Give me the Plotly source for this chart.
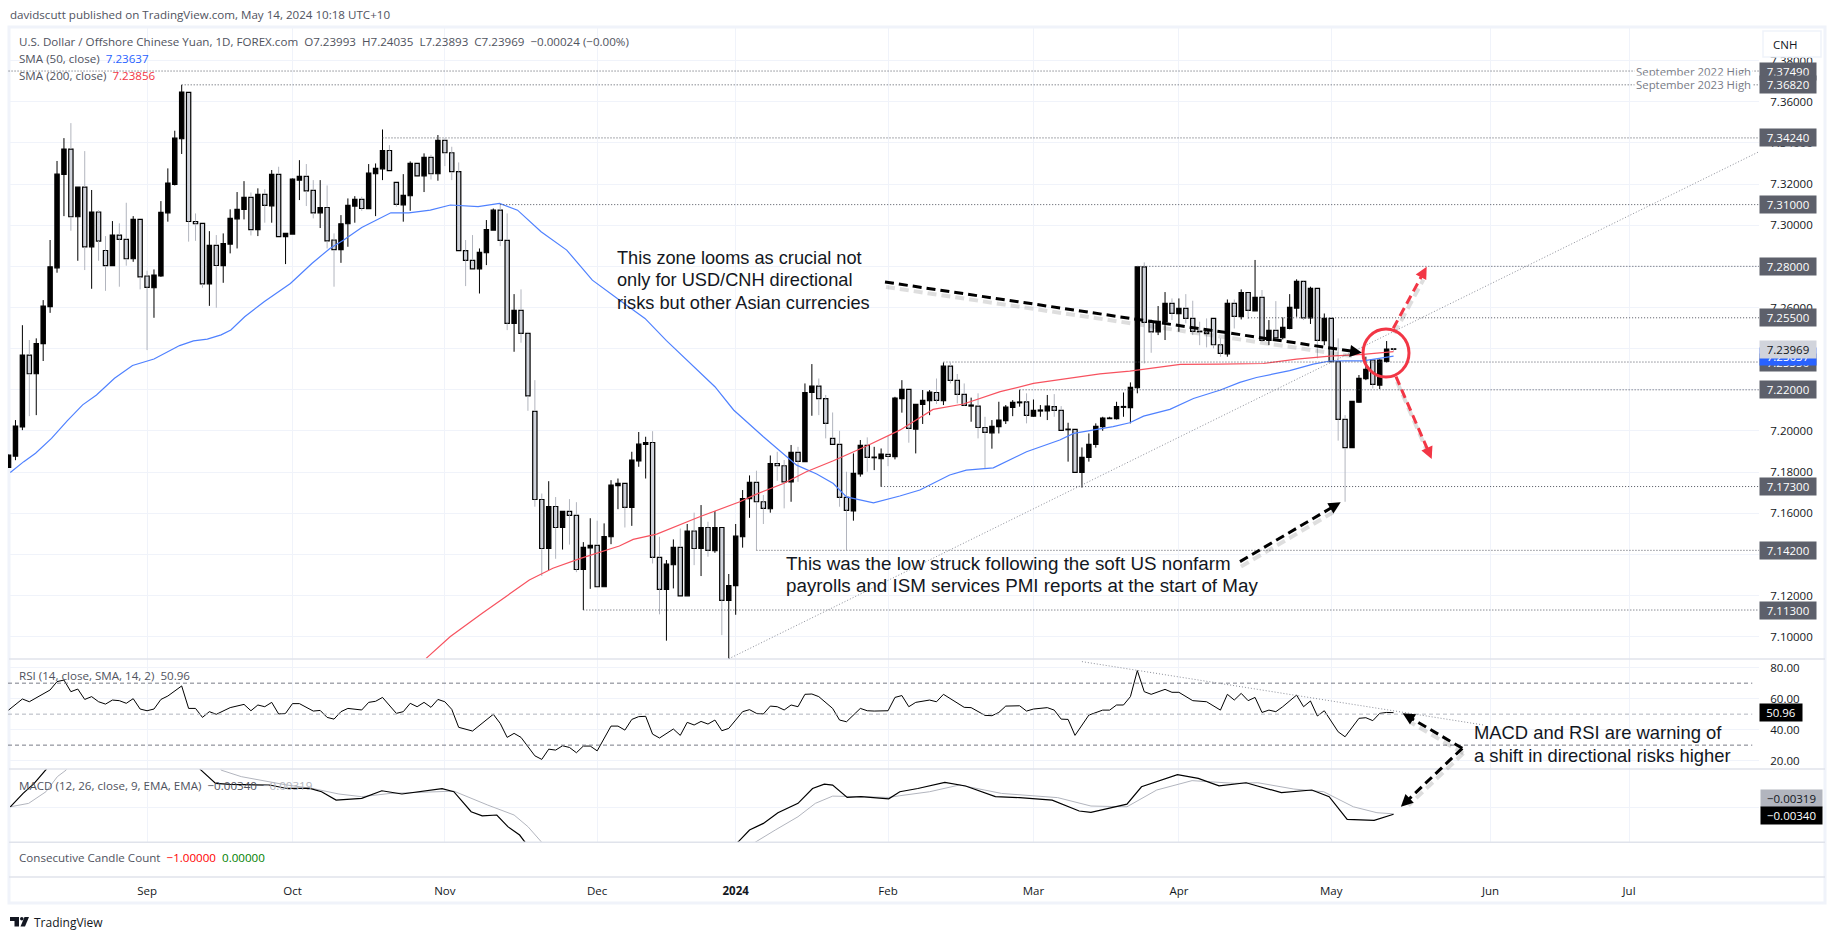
import plotly.graph_objects as go

opens = [7.1823,7.1878,7.2020,7.2369,7.2278,7.2424,7.2604,7.2793,7.3247,7.3370,
7.3041,7.3185,7.2895,7.3064,7.2877,7.2803,7.2952,7.2931,7.2837,7.3028,
7.2753,7.2696,7.2753,7.3060,7.3198,7.3420,7.3645,7.3018,7.3009,7.2715,
7.2902,7.2803,7.2908,7.3031,7.3077,7.3135,7.2978,7.3150,7.3094,7.3247,
7.2944,7.2957,7.3219,7.3237,7.3169,7.3060,7.3086,7.2928,7.2881,7.3007,
7.3093,7.3125,7.3080,7.3250,7.3274,7.3363,7.3208,7.3099,7.3143,7.3300,
7.3240,7.3329,7.3250,7.3412,7.3352,7.3260,7.2876,7.2829,7.2788,7.2866,
7.2976,7.3073,7.2926,7.2523,7.2586,7.2474,7.2095,7.1667,7.1429,7.1633,
7.1531,7.1609,7.1590,7.1327,7.1432,7.1444,7.1243,7.1486,7.1734,7.1745,
7.1629,7.1855,7.1935,7.1944,7.1386,7.1230,7.1350,7.1434,7.1199,7.1514,
7.1429,7.1531,7.1418,7.1531,7.1177,7.1249,7.1486,7.1671,7.1750,7.1656,
7.1622,7.1842,7.1831,7.1753,7.1896,7.1851,7.2187,7.2218,7.2157,7.1964,
7.1935,7.1677,7.1612,7.1791,7.1930,7.1870,7.1865,7.1886,7.1875,7.2157,
7.2202,7.2009,7.2129,7.2147,7.2187,7.2147,7.2315,7.2246,7.2178,7.2121,
7.2121,7.2017,7.1991,7.2021,7.2050,7.2115,7.2137,7.2141,7.2072,7.2097,
7.2098,7.2118,7.2100,7.2006,7.2008,7.1799,7.1872,7.1935,7.2021,7.2060,
7.2060,7.2115,7.2113,7.2210,7.2797,7.2528,7.2482,7.2531,7.2620,7.2570,
7.2596,7.2547,7.2485,7.2482,7.2547,7.2419,7.2375,7.2620,7.2555,7.2673,
7.2584,7.2649,7.2440,7.2489,7.2453,7.2498,7.2597,7.2727,7.2550,7.2693,
7.2439,7.2547,7.2337,7.2056,7.1919,7.2140,7.2254,7.2345,7.2223,7.2338,
7.23993]

closes = [7.1883,7.2024,7.2369,7.2278,7.2425,7.2607,7.2798,7.3248,7.3370,7.3041,
7.3185,7.2895,7.3064,7.2923,7.2803,7.2952,7.2931,7.2837,7.3028,7.2749,
7.2698,7.2758,7.3062,7.3205,7.3423,7.3647,7.3018,7.3007,7.2715,7.2902,
7.2804,7.2911,7.3033,7.3077,7.3135,7.2978,7.3150,7.3096,7.3247,7.2944,
7.2960,7.3224,7.3237,7.3167,7.3060,7.3086,7.2924,7.2881,7.3007,7.3096,
7.3125,7.3081,7.3253,7.3276,7.3363,7.3265,7.3101,7.3145,7.3300,7.3240,
7.3329,7.3250,7.3412,7.3352,7.3260,7.2876,7.2829,7.2788,7.2868,7.2979,
7.3073,7.2926,7.2523,7.2586,7.2474,7.2171,7.1667,7.1429,7.1633,7.1531,
7.1609,7.1590,7.1327,7.1434,7.1444,7.1243,7.1487,7.1737,7.1745,7.1629,
7.1859,7.1936,7.1944,7.1386,7.1230,7.1353,7.1434,7.1199,7.1514,7.1429,
7.1531,7.1420,7.1531,7.1177,7.1249,7.1489,7.1672,7.1750,7.1656,7.1624,
7.1842,7.1831,7.1753,7.1896,7.1852,7.2187,7.2218,7.2157,7.2037,7.1935,
7.1677,7.1614,7.1794,7.1930,7.1872,7.1873,7.1888,7.1876,7.2160,7.2202,
7.2013,7.2129,7.2149,7.2189,7.2149,7.2315,7.2246,7.2178,7.2124,7.2126,
7.2017,7.1993,7.2022,7.2053,7.2116,7.2139,7.2141,7.2076,7.2100,7.2102,
7.2121,7.2100,7.2003,7.2009,7.1799,7.1872,7.1935,7.2022,7.2063,7.2063,
7.2119,7.2119,7.2212,7.2798,7.2528,7.2482,7.2533,7.2620,7.2571,7.2596,
7.2547,7.2484,7.2482,7.2473,7.2419,7.2377,7.2620,7.2557,7.2673,7.2586,
7.2649,7.2440,7.2489,7.2452,7.2503,7.2601,7.2727,7.2550,7.2693,7.2440,
7.2547,7.2337,7.2056,7.1919,7.2144,7.2256,7.2299,7.2226,7.2345,7.2398,
7.23969]

highs = [7.1885,7.2053,7.2514,7.2442,7.2450,7.2636,7.2928,7.3312,7.3423,7.3496,
7.3185,7.3360,7.3171,7.3073,7.2947,7.3020,7.3009,7.3109,7.3044,7.3028,
7.2779,7.2785,7.3117,7.3276,7.3459,7.3682,7.3645,7.3057,7.3009,7.2971,
7.2952,7.2960,7.3077,7.3161,7.3214,7.3159,7.3179,7.3175,7.3268,7.3284,
7.2960,7.3227,7.3316,7.3297,7.3219,7.3219,7.3193,7.2960,7.3049,7.3130,
7.3141,7.3138,7.3297,7.3300,7.3465,7.3389,7.3208,7.3248,7.3310,7.3300,
7.3349,7.3342,7.3438,7.3422,7.3381,7.3305,7.2928,7.2952,7.2887,7.3025,
7.3081,7.3103,7.3057,7.2665,7.2688,7.2482,7.2247,7.1696,7.1756,7.1679,
7.1609,7.1669,7.1654,7.1460,7.1576,7.1564,7.1551,7.1761,7.1769,7.1745,
7.1899,7.1995,7.1972,7.1999,7.1486,7.1373,7.1473,7.1526,7.1548,7.1603,
7.1640,7.1559,7.1611,7.1531,7.1305,7.1548,7.1713,7.1784,7.1807,7.1689,
7.1881,7.1899,7.1859,7.1932,7.1923,7.2231,7.2325,7.2255,7.2175,7.2090,
7.2001,7.1802,7.1891,7.1956,7.1969,7.1923,7.1915,7.1975,7.2166,7.2247,
7.2202,7.2129,7.2199,7.2199,7.2255,7.2333,7.2332,7.2277,7.2231,7.2162,
7.2183,7.2069,7.2053,7.2142,7.2126,7.2150,7.2200,7.2183,7.2153,7.2126,
7.2175,7.2179,7.2121,7.2040,7.2008,7.1920,7.1988,7.2037,7.2069,7.2069,
7.2142,7.2187,7.2236,7.2798,7.2819,7.2544,7.2607,7.2675,7.2644,7.2644,
7.2665,7.2633,7.2531,7.2547,7.2547,7.2450,7.2639,7.2639,7.2688,7.2673,
7.2831,7.2685,7.2539,7.2631,7.2552,7.2665,7.2737,7.2729,7.2701,7.2693,
7.2571,7.2547,7.2450,7.2077,7.2144,7.2272,7.2361,7.2345,7.2348,7.2437,
7.24035]

lows = [7.1820,7.1858,7.2004,7.2072,7.2077,7.2340,7.2574,7.2769,7.3044,7.2973,
7.2827,7.2782,7.2691,7.2827,7.2681,7.2803,7.2701,7.2803,7.2822,7.2688,
7.2393,7.2550,7.2749,7.3017,7.3193,7.3346,7.2920,7.2924,7.2696,7.2608,
7.2599,7.2720,7.2863,7.2887,7.3028,7.2950,7.2947,7.3012,7.3012,7.2944,
7.2811,7.2957,7.3122,7.3093,7.3033,7.2986,7.2887,7.2701,7.2817,7.2895,
7.3012,7.3070,7.3080,7.3044,7.3219,7.3265,7.3090,7.3017,7.3070,7.3240,
7.3161,7.3222,7.3216,7.3287,7.3219,7.2876,7.2704,7.2788,7.2668,7.2806,
7.2976,7.2898,7.2490,7.2385,7.2429,7.2098,7.1632,7.1295,7.1324,7.1379,
7.1424,7.1448,7.1314,7.1130,7.1233,7.1243,7.1243,7.1450,7.1620,7.1531,
7.1539,7.1826,7.1769,7.1356,7.1109,7.0981,7.1235,7.1199,7.1199,7.1348,
7.1295,7.1389,7.1408,7.1008,7.0893,7.1107,7.1433,7.1578,7.1421,7.1548,
7.1603,7.1758,7.1624,7.1656,7.1753,7.1851,7.2074,7.2077,7.1964,7.1935,
7.1632,7.1421,7.1564,7.1778,7.1802,7.1810,7.1729,7.1829,7.1862,7.2089,
7.1943,7.1891,7.2034,7.2077,7.2131,7.2126,7.2231,7.2134,7.2121,7.2045,
7.1964,7.1818,7.1914,7.1988,7.2034,7.2072,7.2118,7.2037,7.2069,7.2069,
7.2053,7.2069,7.2003,7.1851,7.1799,7.1725,7.1851,7.1919,7.2001,7.2058,
7.2056,7.2069,7.2037,7.2183,7.2328,7.2380,7.2466,7.2442,7.2539,7.2482,
7.2523,7.2466,7.2417,7.2406,7.2401,7.2361,7.2361,7.2498,7.2542,7.2544,
7.2584,7.2434,7.2417,7.2447,7.2445,7.2494,7.2555,7.2539,7.2520,7.2353,
7.2417,7.2337,7.1953,7.1656,7.1919,7.2137,7.2247,7.2207,7.2204,7.2332,
7.23893]

sma50_idx = [0.25,2.2,3.9,6.2,8.5,10.7,12.7,15.3,17.9,21,24.7,26.7,28.7,30.7,32.1,34.1,36.9,40.7,43.8,46.4,
48.4,51,55.2,57.8,60.9,63.8,67.8,70.9,73.5,76.9,80.6,84.3,88.2,91.9,95,102,104.7,109,113.8,116.7,
119.1,121,124.9,128.7,131.6,135.9,138.3,142.2,147,151.8,153.8,154.7,159.5,161.9,163.9,167.7,171.1,175,177.8,180.2,
185,188.4,190.8,193.2,195.6,200]
sma50 = [7.1798,7.1851,7.1892,7.1964,7.2050,7.2127,7.2175,7.2256,7.2318,7.2350,7.2415,7.2438,7.2446,7.2467,7.2491,7.2555,7.2628,7.2717,7.2814,7.2887,
7.2928,7.2989,7.3060,7.3060,7.3073,7.3098,7.3090,7.3106,7.3073,7.2968,7.2879,7.2733,7.2636,7.2547,7.2439,7.2215,7.2102,7.1972,7.1834,7.1791,
7.1745,7.1680,7.1651,7.1684,7.1713,7.1786,7.1810,7.1821,7.1899,7.1956,7.1988,7.1993,7.2021,7.2040,7.2072,7.2105,7.2158,7.2199,7.2236,7.2260,
7.2293,7.2325,7.2340,7.2341,7.2341,7.23637]

sma200_idx = [60.3,63.8,68.4,72.4,75.2,78.6,82.6,88.2,90.2,93.6,99.8,105.6,108,111.9,115.2,119.1,123.9,128.7,133.5,137.9,
143.2,148,152.8,157.6,161.9,169.2,174.9,181.2,186,190.8,195.6,200]
sma200 = [7.0895,7.1001,7.1114,7.1211,7.1276,7.1333,7.1381,7.1441,7.1473,7.1499,7.1583,7.1656,7.1693,7.1745,7.1802,7.1855,7.1927,7.2004,7.2105,7.2131,
7.2191,7.2231,7.2255,7.2277,7.2291,7.2324,7.2325,7.2328,7.2349,7.2364,7.2372,7.23856]

rsi_idx = [0,2,3,6,7,8,9,10,11,12,13,14,15,16,17,18,19,20,21,22,23,25,26,27,28,29,30,32,34,35,36,37,38,39,40,41,42,44,45,46,47,48,49,51,52,53,54,56,57,58,59,60,61,62,63,64,65,67,70,71,72,73,74,76,77,78,79,80,81,82,83,84,85,87,88,89,90,91,92,93,94,96,97,98,99,100,101,102,103,104,106,107,108,109,110,111,112,113,114,115,116,117,119,120,121,123,124,125,127,128,129,
130,131,133,134,135,138,139,141,142,143,144,146,147,148,150,151,152,153,154,156,158,159,160,161,162,163,164,165,167,168,169,171,173,175,176,177,178,179,180,181,182,183,184,186,187,188,189,190,192,193,195,196,197,198,199,200]
rsi = [52.6,59.8,58.0,65.6,71.0,72.0,64.5,66.2,59.5,61.3,58.0,56.5,59.1,58.7,57,60,53.3,52.2,53.3,59.5,61.7,68.2,53.7,53.7,47.9,51.6,49.9,54.2,56.3,52.2,55.9,54.8,57.6,50.1,50.5,56.8,56.8,52,52.4,47.9,46.8,51.6,53.7,52.7,57.6,58.3,60.8,50.5,51.6,57,54.8,57.6,54.4,59.5,58,53.1,41.5,39.1,49.9,44.0,35,37.6,35,23.1,20.8,27.4,26.8,29.6,28.5,25.1,29.4,29.4,26.3,42.3,42.3,39.7,46.6,48.4,48.6,37.1,34.6,40.4,36.3,44.7,43,45.3,43.6,46.2,39.3,40.8,51.6,52.9,50.5,50.1,55.2,54.8,52.7,55.9,54.8,62.8,63,61.3,53.7,46.2,45.1,53.7,52.2,52,52.2,60.8,62,
54.8,57.6,59.1,58,62.8,54.4,54.2,49.2,49,51.1,55.2,55.4,52,53.3,54.2,52.6,46.8,46.6,36.3,49.4,52.6,52.6,55.9,55.9,61.3,78.1,64.5,62.8,66,64.1,64.1,58.7,58,52.6,62.8,59.1,63.4,58.7,60.8,51.1,52.6,51.6,54.8,62.3,54.8,58.5,48.8,52.2,38.6,35.4,47.3,47.7,45.8,50.5,51.1,50.96]

macd_idx = [0.25,2.1,3.7,5.4,6.6,15,25,27.8,29.9,32,36.1,37.7,40.2,43.5,45.2,47.3,51,53.9,56.8,62.6,64.3,66.8,68.4,70.5,72.1,73.8,74.6,75.9,90,105.3,107,109,111.1,114,116.1,117.8,119,121.1,123.1,127.1,
128.7,131.3,135.2,138.2,142.5,146,150.7,154.6,156.3,161.5,163.6,168.8,171.8,174.8,178.7,183.8,188.2,190.7,193.3,197.2,200]
macd = [.0005,.0075,.0128,.0197,.0250,.0360,.0300,.0197,.0128,.0122,.0122,.0119,.0101,.0101,.0084,.0040,.0049,.0089,.0072,.0100,.0084,-.0021,-.0042,-.0038,-.0099,-.0143,-.0181,-.0239,-.0450,-.0181,-.0117,-.0082,-.0026,.0023,.0101,.0124,.0119,.0054,.0058,.0047,
.0084,.0101,.0133,.0114,.0058,.0053,.0040,-.0017,-.0024,.0019,.0110,.0173,.0154,.0115,.0131,.0079,.0093,.0058,-.0061,-.0066,-.00340]

signal_idx = [0.25,2.9,5.4,7.05,8.3,9.1,20,30,30.7,33.6,40.2,43.9,47.7,51,55.1,64.3,69.2,73,75,77.1,78.4,93,107.8,110.7,114,116.5,119,123.1,127.1,
128.7,133,137.3,143.4,151.5,156.3,161.5,165.8,170.9,177,180.4,185.6,189.9,194.2,197.6,200]
signal = [.0005,.0023,.0084,.0163,.0197,.0250,.0340,.0280,.0197,.0163,.0119,.0101,.0072,.0058,.0075,.0087,.0014,-.0038,-.0099,-.0181,-.0239,-.0400,-.0181,-.0117,-.0047,.0023,.0061,.0058,.0054,
.0063,.0084,.0119,.0075,.0053,.0009,.0005,.0093,.0142,.0128,.0131,.0098,.0084,.0005,-.0026,-.00319]

month_labels = ["Sep","Oct","Nov","Dec","<b>2024</b>","Feb","Mar","Apr","May","Jun","Jul"]
month_idx = [20,41,63,85,105,127,148,169,191,214,234]
price_ticks = [7.10,7.12,7.14,7.16,7.18,7.20,7.22,7.24,7.26,7.28,7.30,7.32,7.34,7.36,7.38]
rsi_ticks = [20,40,60,80]
level_values = [7.3749,7.3682,7.3424,7.31,7.28,7.255,7.2335,7.22,7.173,7.142,7.113]
level_start = [0,25,54,71,163,179,135,146,126,108,83]
badge_values = [7.3749,7.3682,7.3424,7.31,7.28,7.255,7.22,7.173,7.142,7.113,7.2335]

W, H = 1835, 939
X_MAX = 252.77
n = len(closes)
idx = list(range(n))
px = lambda x: x / W
py = lambda y: 1 - y / H
FONT = "Open Sans"
TXT = "#131722"
GRID = "#f0f3fa"
SEP = "#e0e3eb"
GREY = "#d1d4dc"
WICK = "#b2b5be"
LEG = 11.6
DOT = "1px,2px"

up_x, up_y, dn_x, dn_y = [], [], [], []
for i in idx:
    top, bot = max(opens[i], closes[i]), min(opens[i], closes[i])
    xs, ys = (up_x, up_y) if closes[i] >= opens[i] else (dn_x, dn_y)
    xs += [i, i, None, i, i, None]
    ys += [highs[i], top, None, bot, lows[i], None]

fig = go.Figure()
fig.add_trace(go.Bar(x=idx, y=[abs(c - o) for o, c in zip(opens, closes)],
                     base=[min(o, c) for o, c in zip(opens, closes)], width=0.62,
                     marker=dict(color=["#000000" if c >= o else GREY for o, c in zip(opens, closes)],
                                 line=dict(color="#000000", width=1.2)),
                     hoverinfo="skip", name="USD/CNH"))
fig.add_trace(go.Scatter(x=dn_x, y=dn_y, mode="lines", line=dict(color=WICK, width=1), hoverinfo="skip"))
fig.add_trace(go.Scatter(x=up_x, y=up_y, mode="lines", line=dict(color="#000000", width=1), hoverinfo="skip"))
fig.add_trace(go.Scatter(x=sma50_idx, y=sma50, mode="lines", line=dict(color="#4f81ff", width=1.2), hoverinfo="skip"))
fig.add_trace(go.Scatter(x=sma200_idx, y=sma200, mode="lines", line=dict(color="#f7525f", width=1.2), hoverinfo="skip"))
fig.add_trace(go.Scatter(x=rsi_idx, y=rsi, mode="lines", yaxis="y2", line=dict(color="#000000", width=1), hoverinfo="skip"))
fig.add_trace(go.Scatter(x=signal_idx, y=signal, mode="lines", yaxis="y3", line=dict(color=WICK, width=1), hoverinfo="skip"))
fig.add_trace(go.Scatter(x=macd_idx, y=macd, mode="lines", yaxis="y3", line=dict(color="#000000", width=1.2), hoverinfo="skip"))

shapes, notes = [], []

def text(x, y, s, size=LEG, color="#50535e", anchor="left", family=FONT):
    notes.append(dict(xref="paper", yref="paper", x=px(x), y=py(y), text=s, showarrow=False, xanchor=anchor,
                      yanchor="middle", font=dict(family=family, size=size, color=color), borderpad=0))

def badge(value, label, bg, fg, yref="y", width=56, height=17):
    notes.append(dict(xref="paper", yref=yref, x=px(1759), y=value, text=label, showarrow=False, xanchor="left",
                      yanchor="middle", width=width, height=height, bgcolor=bg, align="center", valign="middle",
                      font=dict(family=FONT, size=11.5, color=fg), borderpad=0))

def seg(x0, y0, x1, y1, color, width, dash="solid", ref=("x", "y")):
    shapes.append(dict(type="line", xref=ref[0], yref=ref[1], x0=x0, y0=y0, x1=x1, y1=y1,
                       line=dict(color=color, width=width, dash=dash)))

def arrow(x0, y0, x1, y1, color, head=True, shadow=True):
    L = ((x1 - x0) ** 2 + (y1 - y0) ** 2) ** .5
    ux, uy = (x1 - x0) / L, (y1 - y0) / L
    ex, ey = (x1 - ux * 9, y1 - uy * 9) if head else (x1, y1)
    if shadow:
        seg(px(x0 + 1), py(y0 + 5), px(ex + 1), py(ey + 5), "rgba(0,0,0,.13)", 4, "9px,5px", ("paper", "paper"))
    seg(px(x0), py(y0), px(ex), py(ey), color, 3, "9px,5px", ("paper", "paper"))
    if head:
        bx, by = x1 - ux * 12, y1 - uy * 12
        nx, ny = -uy * 6, ux * 6
        pts = [(x1, y1), (bx + nx, by + ny), (bx - nx, by - ny)]
        path = "M" + " L".join(f"{px(a):.5f},{py(b):.5f}" for a, b in pts) + " Z"
        shapes.append(dict(type="path", xref="paper", yref="paper", path=path, fillcolor=color, line=dict(width=0)))

# frame and pane separators
shapes.append(dict(type="rect", xref="paper", yref="paper", x0=px(9), y0=py(27), x1=px(1825), y1=py(903),
                   line=dict(color=GRID, width=3), layer="below"))
for y in (659, 769, 842.3, 877):
    seg(px(9), py(y), px(1825), py(y), SEP, 1.5, "solid", ("paper", "paper"))

# horizontal levels and trend lines
for v, s in zip(level_values, level_start):
    seg(s, v, X_MAX, v, "#50535e", 1, DOT)
seg(104, 7.0893, X_MAX, 7.3357, "#8a8d97", 1, DOT)
seg(155, 83.9, 213, 43, "#8a8d97", 1, DOT, ("x", "y2"))
for v, c in ((70, "#787b86"), (50, "#b2b5be"), (30, "#787b86")):
    seg(-0.08, v, 251.8, v, c, 1, "4px,3px", ("x", "y2"))

# drawings
arrow(885, 282, 1362, 352.7, "#000000")
arrow(1240, 561.6, 1340.7, 502.3, "#000000")
arrow(1462.3, 748.3, 1402.7, 713.3, "#000000")
arrow(1462.3, 748.3, 1400.9, 806.7, "#000000")
arrow(1393.3, 328.3, 1426.7, 266.7, "#f23645")
arrow(1396, 376.7, 1431.7, 459, "#f23645")
shapes.append(dict(type="circle", xref="paper", yref="paper", x0=px(1363), x1=px(1409), y0=py(329), y1=py(377),
                   line=dict(color="#f23645", width=3)))

# header, legends
text(9, 15, "davidscutt published on TradingView.com, May 14, 2024 10:18 UTC+10")
text(18, 41.7, "U.S. Dollar / Offshore Chinese Yuan, 1D, FOREX.com &nbsp;O7.23993 &nbsp;H7.24035 &nbsp;L7.23893 &nbsp;C7.23969 &nbsp;−0.00024 (−0.00%)")
text(18, 58.7, 'SMA (50, close) &nbsp;<span style="color:#2962ff">7.23637</span>')
text(18, 76, 'SMA (200, close) &nbsp;<span style="color:#f23645">7.23856</span>')
text(18, 675, "RSI (14, close, SMA, 14, 2) &nbsp;50.96")
text(18, 785, 'MACD (12, 26, close, 9, EMA, EMA) &nbsp;−0.00340 &nbsp;<span style="color:#b2b5be">−0.00319</span>')
text(18, 857.7, 'Consecutive Candle Count &nbsp;<span style="color:#ff0000">−1.00000</span> &nbsp;<span style="color:#008000">0.00000</span>')

# commentary
for y, s in ((258, "This zone looms as crucial not"), (280, "only for USD/CNH directional"), (303, "risks but other Asian currencies")):
    text(615.5, y, s, 18.2, "#131722", family="Liberation Sans")
for y, s in ((563.3, "This was the low struck following the soft US nonfarm"), (585.7, "payrolls and ISM services PMI reports at the start of May")):
    text(785, y, s, 18.8, "#131722", family="Liberation Sans")
for y, s in ((732.7, "MACD and RSI are warning of"), (755, "a shift in directional risks higher")):
    text(1472.5, y, s, 18.4, "#131722", family="Liberation Sans")

# price labels
for v, s in ((7.3749, "September 2022 High"), (7.3682, "September 2023 High")):
    notes.append(dict(xref="paper", yref="y", x=px(1753), y=v, text=s, showarrow=False, xanchor="right", yanchor="middle",
                      bgcolor="#ffffff", borderpad=1, font=dict(family=FONT, size=11.4, color="#787b86")))
for v in badge_values:
    badge(v, f"{v:.5f}", "#5d606b", "#ffffff")
badge(7.23637, "7.23637", "#2962ff", "#ffffff")
badge(7.23969, "7.23969", GREY, TXT)
badge(50.96, "50.96", "#000000", "#ffffff", yref="y2", width=42, height=17)
notes.append(dict(xref="paper", yref="paper", x=px(1760), y=py(798.5), text="−0.00319", showarrow=False, xanchor="left", yanchor="middle",
                  width=61, height=17, bgcolor=WICK, font=dict(family=FONT, size=11.5, color=TXT), borderpad=0))
notes.append(dict(xref="paper", yref="paper", x=px(1760), y=py(815.5), text="−0.00340", showarrow=False, xanchor="left", yanchor="middle",
                  width=61, height=17, bgcolor="#000000", font=dict(family=FONT, size=11.5, color="#ffffff"), borderpad=0))

# CNH box
shapes.append(dict(type="rect", xref="paper", yref="paper", x0=px(1763), x1=px(1821), y0=py(31), y1=py(57),
                   fillcolor="#ffffff", line=dict(color=GRID, width=1.5)))
text(1772, 45, "CNH", 11.5, TXT)

# TradingView logo
def poly(pts):
    return "M" + " L".join(f"{px(a):.5f},{py(b):.5f}" for a, b in pts) + " Z"
for pts in ([(10, 917), (19, 917), (19, 926.5), (14.5, 926.5), (14.5, 921), (10, 921)],
            [(24.5, 917), (29, 917), (25, 926.5), (20.5, 926.5)]):
    shapes.append(dict(type="path", xref="paper", yref="paper", path=poly(pts), fillcolor="#131722", line=dict(width=0)))
shapes.append(dict(type="circle", xref="paper", yref="paper", x0=px(20), x1=px(23.6), y0=py(917), y1=py(920.6),
                   fillcolor="#131722", line=dict(width=0)))
text(33, 922, "TradingView", 12, "#131722")

axis_font = dict(family=FONT, size=11.5, color=TXT)
fig.update_layout(
    width=W, height=H, margin=dict(l=0, r=0, t=0, b=0), paper_bgcolor="#ffffff", plot_bgcolor="#ffffff",
    showlegend=False, barmode="overlay", hovermode=False, shapes=shapes, annotations=notes,
    xaxis=dict(domain=[px(8), px(1759)], range=[-0.08, X_MAX], anchor="free", position=py(877), tickvals=month_idx,
               ticktext=month_labels, tickfont=axis_font, ticks="outside", ticklen=3, tickcolor="rgba(0,0,0,0)",
               showgrid=True, gridcolor=GRID, gridwidth=1, showline=False, zeroline=False, tickangle=0),
    yaxis=dict(domain=[py(659), py(27)], range=[7.0892, 7.3963], anchor="x", side="right", tickvals=price_ticks,
               ticktext=[f"{t:.5f}" for t in price_ticks], tickfont=axis_font, ticks="outside", ticklen=8,
               tickcolor="rgba(0,0,0,0)", showgrid=True, gridcolor=GRID, zeroline=False, showline=False),
    yaxis2=dict(domain=[py(769), py(659.3)], range=[14.6, 85.4], anchor="x", side="right", tickvals=rsi_ticks,
                ticktext=[f"{t:.2f}" for t in rsi_ticks], tickfont=axis_font, ticks="outside", ticklen=8,
                tickcolor="rgba(0,0,0,0)", showgrid=True, gridcolor=GRID, zeroline=False, showline=False),
    yaxis3=dict(domain=[py(842.3), py(769)], range=[-0.0181, 0.0203], anchor="x", side="right", tickvals=[0],
                showticklabels=False, ticks="", showgrid=True, gridcolor=GRID, zeroline=False, showline=False),
)
fig.write_html("out.html", config=dict(displayModeBar=False), post_script="document.body.style.margin='0';")
